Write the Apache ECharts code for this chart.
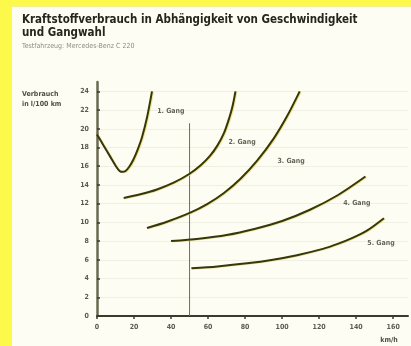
<!DOCTYPE html>
<html>
<head>
<meta charset="utf-8">
<script src="https://cdn.jsdelivr.net/npm/echarts@6/dist/echarts.min.js"></script>
<style>
  html, body { margin: 0; padding: 0; background: #fefdf3; }
  #chart { width: 411px; height: 346px; }
</style>
</head>
<body>
<div id="chart"></div>
<script>
// Speed (km/h) against fuel consumption (l/100 km), one curve per gear
const speedTicks = [0, 20, 40, 60, 80, 100, 120, 140, 160];
const consumptionTicks = [0, 2, 4, 6, 8, 10, 12, 14, 16, 18, 20, 22, 24];

const gear1 = [[0, 19.4], [3.6, 18.2], [7.2, 17.0], [10.2, 16.0], [12.2, 15.5], [13.8, 15.4],
               [15.4, 15.5], [17.4, 15.95], [19.6, 16.7], [21.8, 17.7], [24.3, 19.1], [27, 21.2], [29.7, 24]];
const gear2 = [[14.4, 12.6], [23.4, 13.0], [32.4, 13.52], [41.4, 14.24], [50, 15.2], [56, 16.1],
               [61, 17.1], [65, 18.2], [68.5, 19.5], [71.5, 21.2], [73.3, 22.5], [74.8, 24]];
const gear3 = [[27, 9.4], [37.8, 10.07], [50.4, 11.04], [59.5, 11.95], [68.4, 13.11], [77.5, 14.66],
               [86.5, 16.6], [95.5, 18.98], [102.7, 21.36], [109.5, 24]];
const gear4 = [[40, 8.0], [55, 8.25], [70, 8.65], [85, 9.3], [100, 10.15], [115, 11.35],
               [130, 12.9], [145, 14.9]];
const gear5 = [[51, 5.1], [65, 5.3], [81, 5.63], [95, 6.02], [108, 6.5], [122, 7.17],
               [130, 7.7], [138, 8.35], [146, 9.15], [155, 10.45]];

// Reference speed of 50 km/h (urban limit)
const refLine = [[50, 0], [50, 20.6]];

const gearNames = ['1. Gang', '2. Gang', '3. Gang', '4. Gang', '5. Gang'];
const gearLabelAt = [[32.5, 21.9], [71, 18.6], [97.5, 16.5], [133, 12.1], [146, 7.8]];

const titleLines = ['Kraftstoffverbrauch in Abhängigkeit von Geschwindigkeit', 'und Gangwahl'];
const subtitle = 'Testfahrzeug: Mercedes-Benz C 220';
const yAxisName = ['Verbrauch', 'in l/100 km'];
const xAxisUnit = 'km/h';

const NARROW = '"Liberation Sans Narrow", "DejaVu Sans Condensed", "Liberation Sans", sans-serif';
const curveColor = '#35351e';
const glow = 'rgba(236, 228, 60, 0.75)';

const curveSeries = [gear1, gear2, gear3, gear4, gear5].map((d, i) => ({
  name: gearNames[i],
  type: 'line',
  data: d,
  smooth: 0.3,
  showSymbol: false,
  silent: true,
  z: 3,
  lineStyle: {
    color: curveColor, width: 2,
    shadowColor: glow, shadowBlur: 0, shadowOffsetX: 1, shadowOffsetY: 0.5
  }
}));

const chart = echarts.init(document.getElementById('chart'), null, { renderer: 'canvas' });
chart.setOption({
  backgroundColor: '#fefdf3',
  animation: false,
  grid: { left: 97, top: 82, width: 311, height: 234 },
  xAxis: {
    type: 'value', min: 0, max: 168,
    axisLine: { lineStyle: { color: '#3a3a2c', width: 2 } },
    axisTick: { customValues: speedTicks, length: 3, lineStyle: { color: '#3a3a2c', width: 1.5 } },
    axisLabel: { customValues: speedTicks, fontSize: 7, fontWeight: 'bold', color: '#5a5a4e',
                 fontFamily: NARROW, margin: 8 },
    splitLine: { show: false }
  },
  yAxis: {
    type: 'value', min: 0, max: 25, interval: 2,
    axisLine: { show: true, lineStyle: { color: '#6a6a4e', width: 2.5 } },
    axisTick: { show: true, customValues: consumptionTicks, inside: true, length: 3,
                lineStyle: { color: '#3a3a2c', width: 1.5 } },
    axisLabel: { customValues: consumptionTicks, fontSize: 7, fontWeight: 'bold', color: '#5a5a4e',
                 fontFamily: NARROW, margin: 8 },
    splitLine: { show: true, lineStyle: { color: '#f1efde', width: 1 } }
  },
  series: [
    ...curveSeries,
    {
      type: 'line', data: refLine, showSymbol: false, silent: true, z: 2,
      lineStyle: { color: '#6e6e60', width: 1 }
    },
    {
      type: 'scatter', silent: true, symbolSize: 0, z: 4,
      data: gearNames.map((n, i) => ({ name: n, value: gearLabelAt[i] })),
      label: {
        show: true, position: 'right', distance: 0, formatter: '{b}',
        fontSize: 7, fontWeight: 'bold', color: '#3f3f33', fontFamily: NARROW
      }
    }
  ],
  graphic: [
    { type: 'rect', shape: { x: 0, y: 0, width: 12, height: 346 }, style: { fill: '#fdf94a' }, z: 10 },
    { type: 'rect', shape: { x: 0, y: 0, width: 411, height: 7 }, style: { fill: '#fdf94a' }, z: 10 },
    { type: 'text', x: 22, y: 14, style: { text: titleLines.join('\n'), fill: '#26261c',
      font: 'bold 11.5px ' + NARROW, lineHeight: 13 } },
    { type: 'text', x: 22, y: 43, style: { text: subtitle, fill: '#8e8e80',
      font: '7px ' + NARROW } },
    { type: 'text', x: 22, y: 89, style: { text: yAxisName.join('\n'), fill: '#4e4e42',
      font: 'bold 7px ' + NARROW, lineHeight: 10 } },
    { type: 'text', x: 389, y: 337, style: { text: xAxisUnit, fill: '#4e4e42',
      font: 'bold 7px ' + NARROW, align: 'center' } }
  ]
});
</script>
</body>
</html>
